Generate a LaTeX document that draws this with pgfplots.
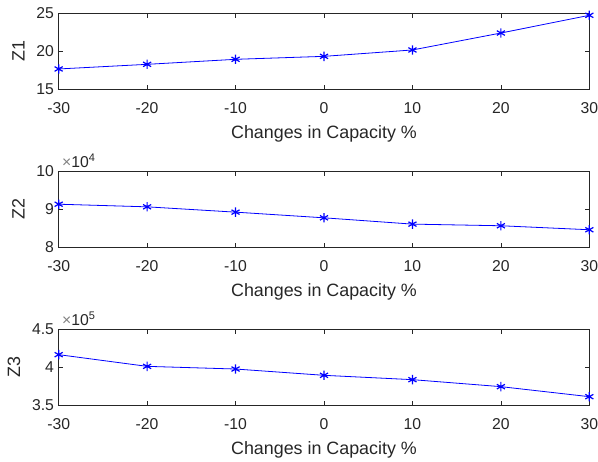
\documentclass[border=0pt]{standalone}
\usepackage{fontspec}
\setmainfont{Liberation Sans}
\usepackage{pgfplots}
\pgfplotsset{compat=1.18}

\definecolor{axgray}{RGB}{38,38,38}

\newcommand\tickfont{\fontsize{11.8}{13}\selectfont}
\newcommand\labfont{\fontsize{13.4}{15}\selectfont}

\pgfplotsset{
  matlab/.style={
    scale only axis,
    clip=false,
    width=398pt, height=57pt,
    xmin=-30, xmax=30,
    xtick={-30,-20,...,30},
    scaled y ticks=false,
    tick align=inside,
    tick pos=both,
    major tick length=3.5pt,
    axis line style={axgray, line width=0.5pt},
    every tick/.style={axgray, line width=0.5pt},
    tick label style={text=axgray, font=\tickfont},
    xticklabel style={yshift=-6.5pt},
    /pgf/number format/assume math mode=true,
    xlabel={Changes in Capacity \%},
    xlabel style={text=axgray, font=\labfont, yshift=-2pt},
    ylabel style={text=axgray, font=\labfont, yshift=2pt},
  },
  zline/.style={blue, line width=0.6pt, mark=asterisk, mark size=3.5pt, mark options={solid, line width=0.9pt}},
}

\begin{document}
\begin{tikzpicture}
\path[use as bounding box] (-44pt,-278.8pt) rectangle (404.5pt,67pt);

\begin{axis}[matlab, at={(0pt,0pt)}, anchor=south west,
  ymin=15, ymax=25, ytick={15,20,25}, ylabel={Z1}]
\addplot[zline] coordinates {
  (-30,17.68) (-20,18.29) (-10,18.95) (0,19.34) (10,20.18) (20,22.41) (30,24.74)
};
\end{axis}

\begin{axis}[matlab, at={(0pt,-118.5pt)}, anchor=south west,
  ymin=80000, ymax=100000, ytick={80000,90000,100000},
  yticklabels={8,9,10}, ylabel={Z2}]
\addplot[zline] coordinates {
  (-30,91350) (-20,90660) (-10,89260) (0,87770) (10,86110) (20,85680) (30,84630)
};
\node[anchor=base west, inner sep=0pt, text=axgray, font=\tickfont]
  at (axis description cs:0.006,1.05) {{\color{gray}×}10\textsuperscript{4}};
\end{axis}

\begin{axis}[matlab, at={(0pt,-237pt)}, anchor=south west,
  ymin=350000, ymax=450000, ytick={350000,400000,450000},
  yticklabels={3.5,4,4.5}, ylabel={Z3}]
\addplot[zline] coordinates {
  (-30,416700) (-20,401300) (-10,397800) (0,389500) (10,383800) (20,374600) (30,361400)
};
\node[anchor=base west, inner sep=0pt, text=axgray, font=\tickfont]
  at (axis description cs:0.006,1.05) {{\color{gray}×}10\textsuperscript{5}};
\end{axis}
\end{tikzpicture}
\end{document}
